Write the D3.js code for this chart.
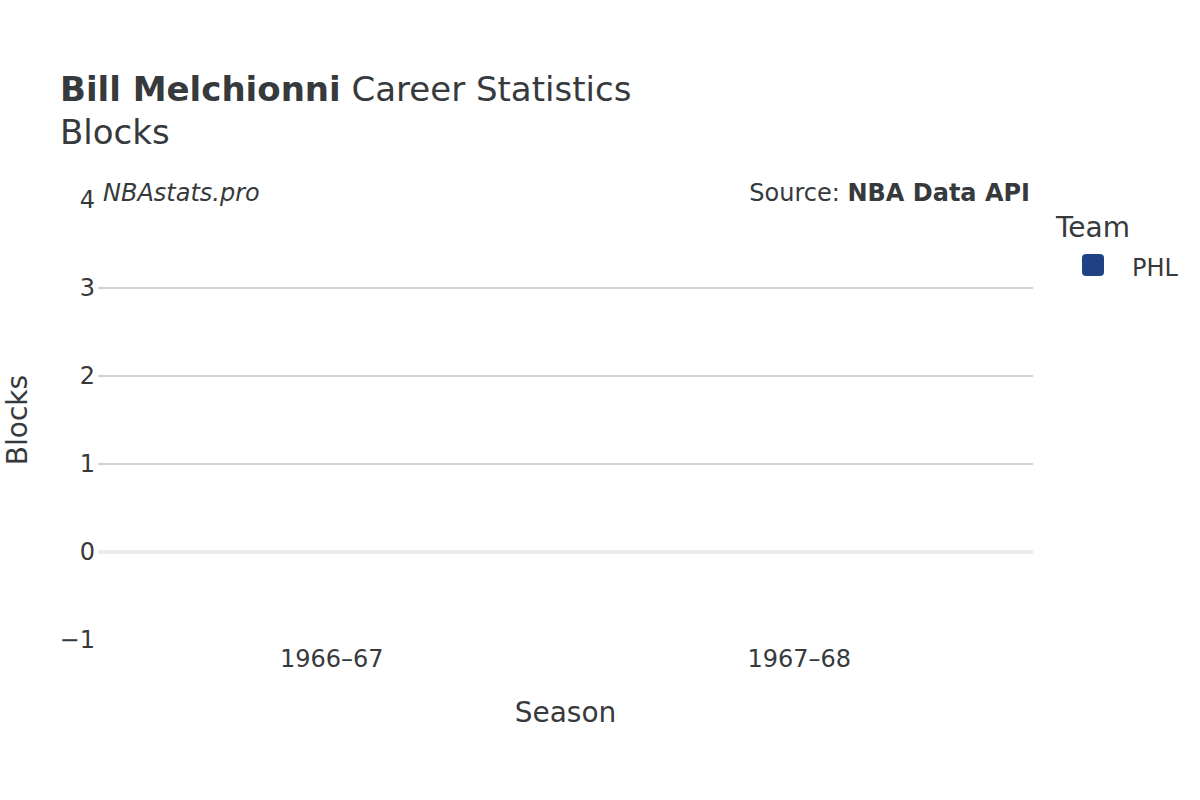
<!DOCTYPE html>
<html>
<head>
<meta charset="utf-8">
<script src="https://cdn.jsdelivr.net/npm/d3@7"></script>
<style>
  body { margin: 0; background: #fff; }
  text { font-family: "DejaVu Sans", sans-serif; fill: #363a3c; }
</style>
</head>
<body>
<div id="chart"></div>
<script>
// data
var seasons = ['1966–67', '1967–68'];
var blocks = [0, 0];
var team = 'PHL';
var teamColor = '#1f4287';
var yTicks = [-1, 0, 1, 2, 3, 4];

var svgWidth = 1200;
var svgHeight = 800;

var margin = { top: 200, bottom: 160, right: 167, left: 98 };
var width = svgWidth - margin.left - margin.right;
var height = svgHeight - margin.top - margin.bottom;

var svg = d3.select('#chart')
    .append('svg')
    .attr('width', svgWidth)
    .attr('height', svgHeight);

var chartGroup = svg.append('g')
    .attr('transform', `translate(${margin.left}, ${margin.top})`);

var xScale = d3.scaleBand()
    .domain(seasons)
    .range([0, width]);

var yScale = d3.scaleLinear()
    .domain([-1, 4])
    .range([height, 0]);

// grid lines
chartGroup.selectAll('.grid')
    .data(yTicks.filter(d => d > 0 && d < 4))
    .enter()
    .append('line')
    .attr('x1', 0)
    .attr('x2', width)
    .attr('y1', d => yScale(d))
    .attr('y2', d => yScale(d))
    .attr('stroke', '#c4c4c4')
    .attr('stroke-width', 1.5);

// zero line
chartGroup.append('line')
    .attr('x1', 0)
    .attr('x2', width)
    .attr('y1', yScale(0))
    .attr('y2', yScale(0))
    .attr('stroke', '#ebebeb')
    .attr('stroke-width', 4);

// bars (all zero)
chartGroup.selectAll('.bar')
    .data(blocks)
    .enter()
    .append('rect')
    .attr('x', (d, i) => xScale(seasons[i]) + xScale.bandwidth() * 0.1)
    .attr('width', xScale.bandwidth() * 0.8)
    .attr('y', d => yScale(Math.max(0, d)))
    .attr('height', d => Math.abs(yScale(d) - yScale(0)))
    .attr('fill', teamColor);

// y axis
var leftAxis = d3.axisLeft(yScale)
    .tickValues(yTicks)
    .tickSize(0)
    .tickPadding(3)
    .tickFormat(d => d < 0 ? '\u2212' + Math.abs(d) : d);

var yAxis = chartGroup.append('g').call(leftAxis);
yAxis.select('.domain').remove();
yAxis.selectAll('text')
    .attr('font-size', 24)
    .attr('fill', '#363a3c')
    .style('font-family', '"DejaVu Sans", sans-serif');

// x axis
var bottomAxis = d3.axisBottom(xScale).tickSize(0).tickPadding(0);
var xAxis = chartGroup.append('g')
    .attr('transform', `translate(0, ${height + 10})`)
    .call(bottomAxis);
xAxis.select('.domain').remove();
xAxis.selectAll('text')
    .attr('font-size', 24)
    .attr('fill', '#363a3c')
    .style('font-family', '"DejaVu Sans", sans-serif');

// axis titles
svg.append('text')
    .attr('x', margin.left + width / 2)
    .attr('y', 722)
    .attr('text-anchor', 'middle')
    .attr('font-size', 28)
    .text('Season');

svg.append('text')
    .attr('transform', `translate(27, ${margin.top + yScale(1.5)}) rotate(-90)`)
    .attr('text-anchor', 'middle')
    .attr('font-size', 28)
    .text('Blocks');

// title
var title = svg.append('text')
    .attr('x', 60)
    .attr('y', 101)
    .attr('font-size', 34);
title.append('tspan').attr('font-weight', 'bold').text('Bill Melchionni');
title.append('tspan').text(' Career Statistics');

svg.append('text')
    .attr('x', 60)
    .attr('y', 144)
    .attr('font-size', 34)
    .text('Blocks');

// watermark and source
svg.append('text')
    .attr('x', 103)
    .attr('y', 201)
    .attr('font-size', 24)
    .attr('font-style', 'italic')
    .text('NBAstats.pro');

var source = svg.append('text')
    .attr('x', 1030)
    .attr('y', 201)
    .attr('text-anchor', 'end')
    .attr('font-size', 24);
source.append('tspan').text('Source: ');
source.append('tspan').attr('font-weight', 'bold').text('NBA Data API');

// legend
svg.append('text')
    .attr('x', 1056)
    .attr('y', 237)
    .attr('font-size', 28)
    .text('Team');

svg.append('rect')
    .attr('x', 1082)
    .attr('y', 254)
    .attr('width', 22)
    .attr('height', 22)
    .attr('rx', 4)
    .attr('fill', teamColor);

svg.append('text')
    .attr('x', 1132)
    .attr('y', 276)
    .attr('font-size', 24)
    .text(team);
</script>
</body>
</html>
